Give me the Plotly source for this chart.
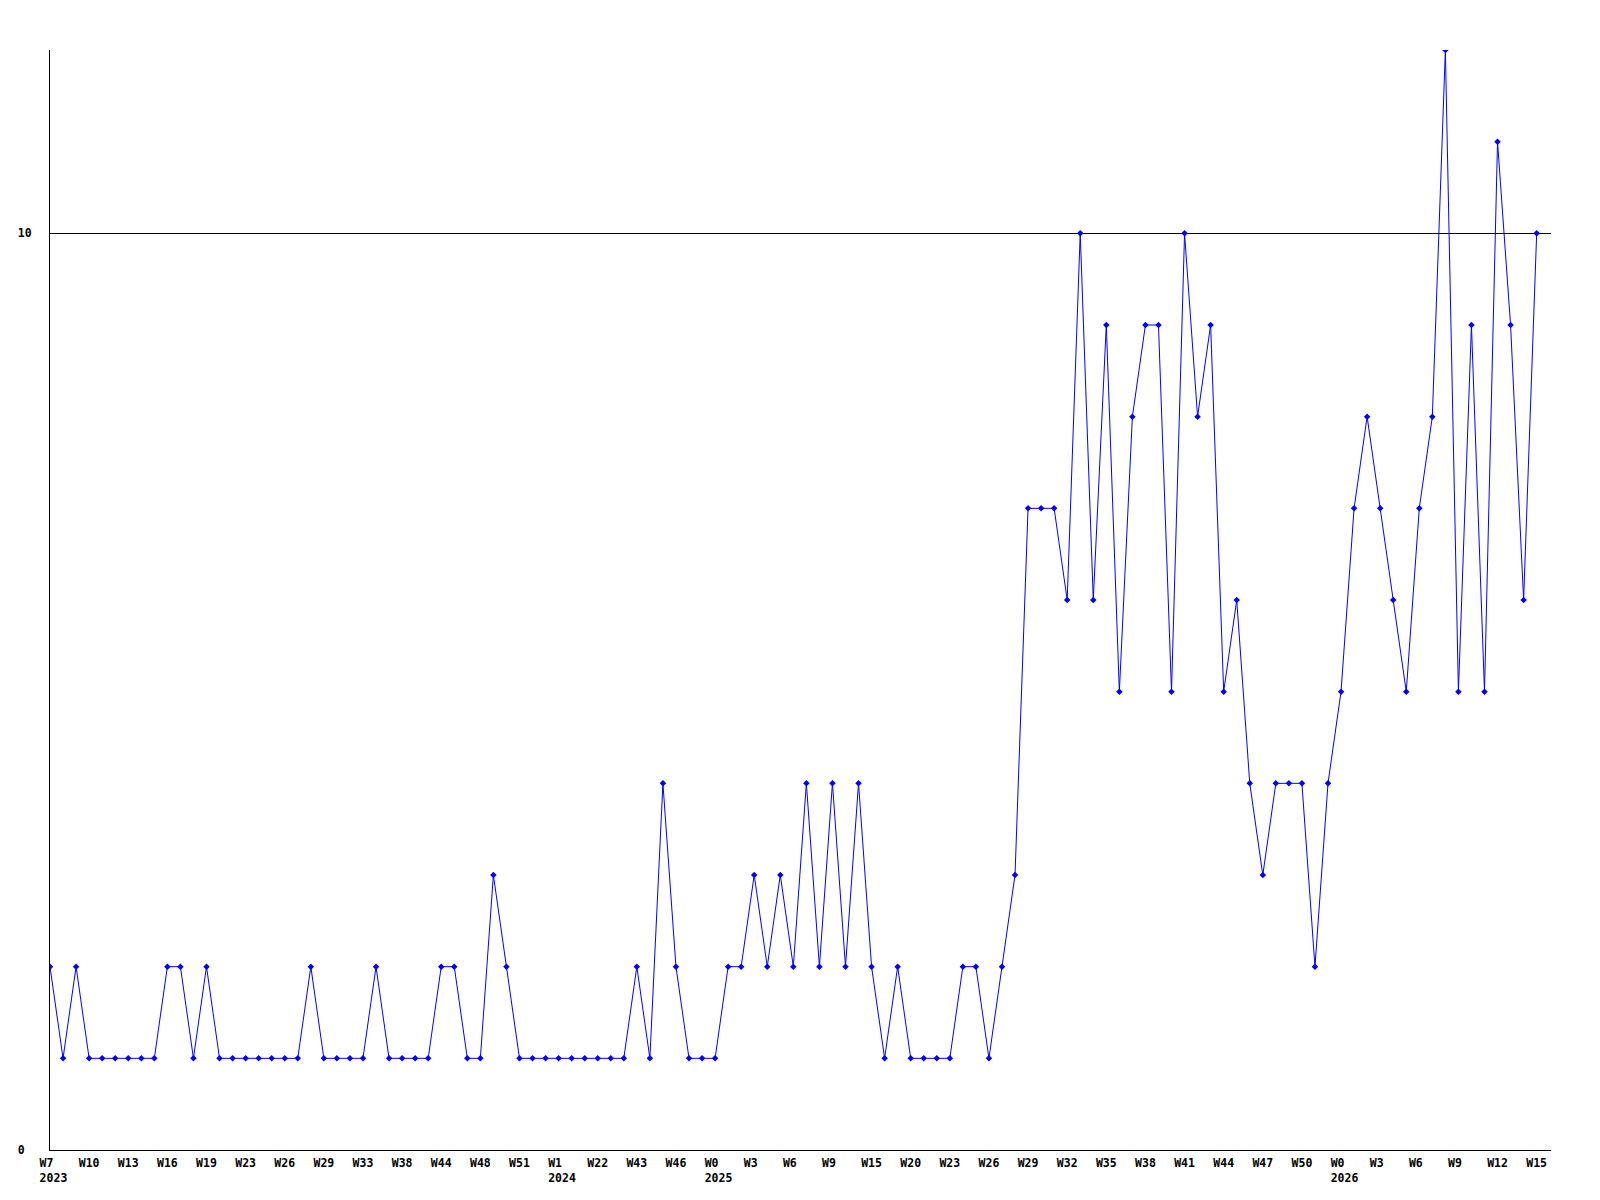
import plotly.graph_objects as go

# Weekly values (one point per recorded week, in order)
values = [2, 1, 2, 1, 1, 1, 1, 1, 1, 2, 2, 1, 2, 1, 1, 1, 1, 1, 1, 1,
          2, 1, 1, 1, 1, 2, 1, 1, 1, 1, 2, 2, 1, 1, 3, 2, 1, 1, 1, 1,
          1, 1, 1, 1, 1, 2, 1, 4, 2, 1, 1, 1, 2, 2, 3, 2, 3, 2, 4, 2,
          4, 2, 4, 2, 1, 2, 1, 1, 1, 1, 2, 2, 1, 2, 3, 7, 7, 7, 6, 10,
          6, 9, 5, 8, 9, 9, 5, 10, 8, 9, 5, 6, 4, 3, 4, 4, 4, 2, 4, 5,
          7, 8, 7, 6, 5, 7, 8, 12, 5, 9, 5, 11, 9, 6, 10]

# Tick labels: every third point is labelled
week_labels = ["W7", "W10", "W13", "W16", "W19", "W23", "W26", "W29", "W33", "W38",
               "W44", "W48", "W51", "W1", "W22", "W43", "W46", "W0", "W3", "W6",
               "W9", "W15", "W20", "W23", "W26", "W29", "W32", "W35", "W38", "W41",
               "W44", "W47", "W50", "W0", "W3", "W6", "W9", "W12", "W15"]
year_labels = {0: "2023", 13: "2024", 17: "2025", 33: "2026"}
label_step = 3

y_tickvals = [0, 10]
y_ticktext = ["0\u00a0", "10"]

x = list(range(len(values)))
tickvals = [i * label_step for i in range(len(week_labels))]
ticktext = []
for k, w in enumerate(week_labels):
    w_pad = w + "\u00a0" * (3 - len(w))
    if k in year_labels:
        ticktext.append(w_pad + "<br>\u00a0" + year_labels[k])
    else:
        ticktext.append(w_pad)

FONT = dict(family="DejaVu Sans Mono", size=11.5, color="black", weight="bold")

fig = go.Figure()
fig.add_trace(go.Scatter(
    x=x, y=values, mode="lines+markers",
    line=dict(color="#0000ff", width=1),
    marker=dict(symbol="diamond", size=5, color="#0000ff"),
    hoverinfo="skip",
))

fig.update_layout(
    width=1600, height=1200,
    margin=dict(l=50, r=49, t=50, b=50),
    paper_bgcolor="white", plot_bgcolor="white",
    showlegend=False,
    font=FONT,
)
fig.update_xaxes(
    range=[0, 115.1], tickvals=tickvals, ticktext=ticktext,
    showgrid=False, zeroline=False, showline=True, linecolor="black", linewidth=1,
    ticks="", tickfont=FONT, ticklabelstandoff=2,
)
fig.update_yaxes(
    range=[0, 12], tickvals=y_tickvals, ticktext=y_ticktext,
    showgrid=True, gridcolor="black", gridwidth=1,
    zeroline=False, showline=True, linecolor="black", linewidth=1,
    ticks="", tickfont=FONT, ticklabelstandoff=15,
)

fig.write_html("out.html", config={"displayModeBar": False},
               post_script="document.body.style.margin='0';")
